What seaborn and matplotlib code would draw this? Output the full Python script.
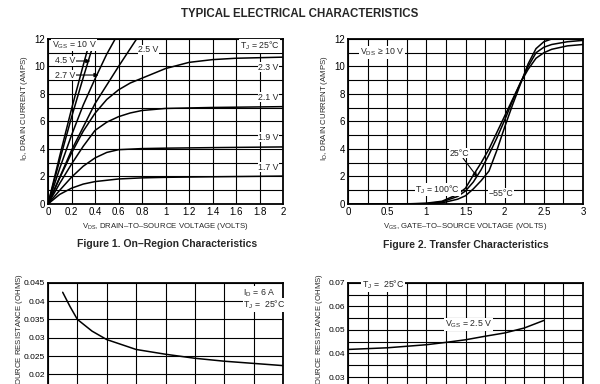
import numpy as np
import pandas as pd
import seaborn as sns
import matplotlib.pyplot as plt
from matplotlib.ticker import FixedLocator, FuncFormatter

# ---- Figure 1: on-region characteristics (ID vs VDS for each VGS) ----
vgs_names = ['10 V', '4.5 V', '2.7 V', '2.5 V', '2.3 V', '2.1 V', '1.9 V', '1.7 V']
vds_10v = [0, 0.1, 0.2, 0.3, 0.4]
id_10v = [0, 3.5, 6.9, 10.1, 13.2]
vds_45v = [0, 0.1, 0.2, 0.3, 0.45]
id_45v = [0, 3.2, 6.3, 9.2, 13.4]
vds_27v = [0, 0.1, 0.2, 0.3, 0.4, 0.5, 0.65]
id_27v = [0, 2.6, 5.0, 7.2, 9.1, 10.9, 13.2]
vds_25v = [0, 0.2, 0.4, 0.6, 0.8]
id_25v = [0, 3.9, 7.3, 10.0, 12.6]
vds_23v = [0, 0.1, 0.2, 0.3, 0.4, 0.5, 0.6, 0.7, 0.8, 1.0, 1.2, 1.4, 1.6, 2.0]
id_23v = [0, 1.9, 3.7, 5.3, 6.6, 7.6, 8.3, 8.8, 9.15, 9.85, 10.3, 10.5, 10.6, 10.68]
vds_21v = [0, 0.1, 0.2, 0.3, 0.4, 0.5, 0.6, 0.7, 0.8, 1.0, 1.4, 2.0]
id_21v = [0, 1.5, 2.9, 4.2, 5.35, 5.95, 6.35, 6.62, 6.8, 6.95, 7.02, 7.08]
vds_19v = [0, 0.1, 0.2, 0.3, 0.4, 0.5, 0.6, 0.8, 1.0, 1.4, 2.0]
id_19v = [0, 1.0, 1.95, 2.75, 3.35, 3.75, 3.95, 4.03, 4.06, 4.1, 4.15]
vds_17v = [0, 0.1, 0.2, 0.3, 0.4, 0.6, 0.8, 1.0, 1.4, 2.0]
id_17v = [0, 0.7, 1.15, 1.45, 1.63, 1.82, 1.9, 1.94, 1.98, 2.03]

# ---- Figure 2: transfer characteristics (ID vs VGS per junction temp) ----
vgs_100c = [0, 0.8, 1.0, 1.2, 1.4, 1.5, 1.6, 1.7, 1.8, 1.9, 2.0, 2.1, 2.2, 2.3, 2.4, 2.5, 2.6, 2.8, 3.0]
id_100c = [0, 0.02, 0.06, 0.2, 0.7, 1.15, 2.1, 3.0, 4.0, 5.2, 6.4, 7.6, 8.8, 9.8, 10.6, 11.0, 11.25, 11.5, 11.6]
vgs_25c = [0, 0.8, 1.0, 1.2, 1.4, 1.5, 1.6, 1.7, 1.8, 1.9, 2.0, 2.1, 2.2, 2.3, 2.4, 2.5, 2.6, 2.8, 3.0]
id_25c = [0, 0.01, 0.03, 0.15, 0.55, 0.95, 1.6, 2.5, 3.6, 4.8, 6.1, 7.5, 8.8, 10.0, 11.0, 11.4, 11.6, 11.8, 11.9]
vgs_m55c = [0, 0.8, 1.0, 1.2, 1.4, 1.5, 1.6, 1.7, 1.8, 1.9, 2.0, 2.1, 2.2, 2.3, 2.4, 2.5, 2.6, 2.8, 3.0]
id_m55c = [0, 0.0, 0.01, 0.08, 0.35, 0.6, 1.1, 1.7, 2.4, 3.9, 5.6, 7.2, 8.7, 10.2, 11.3, 11.8, 12.0, 12.2, 12.3]

# ---- Figure 3: on-resistance vs gate voltage ----
vgs_r = [2.5, 2.75, 3.0, 3.5, 4.0, 5.0, 6.0, 7.0, 8.0, 9.0, 10.0]
rds_vgs = [0.0424, 0.0385, 0.0350, 0.0318, 0.0295, 0.0268, 0.0255, 0.0244, 0.0236, 0.0230, 0.0224]

# ---- Figure 4: on-resistance vs drain current ----
id_r = [0, 2, 4, 5, 6, 7, 8, 9, 10]
rds_id = [0.0417, 0.0424, 0.0437, 0.0447, 0.0458, 0.0473, 0.0487, 0.0508, 0.0540]

# tick values (only the labels that show above the page crop for the lower panels)
fig1_xticks = [0, 0.2, 0.4, 0.6, 0.8, 1, 1.2, 1.4, 1.6, 1.8, 2]
fig2_xticks = [0, 0.5, 1, 1.5, 2, 2.5, 3]
id_ticks = [0, 2, 4, 6, 8, 10, 12]
fig3_yticks = [0.02, 0.025, 0.03, 0.035, 0.04, 0.045]
fig4_yticks = [0.03, 0.04, 0.05, 0.06, 0.07]

sns.set_theme(style='white')
plt.rcParams['font.family'] = ['Liberation Sans Narrow', 'Liberation Sans', 'DejaVu Sans']
plt.rcParams['mathtext.fontset'] = 'custom'
plt.rcParams['mathtext.rm'] = 'Liberation Sans'

fig = plt.figure(figsize=(6, 3.84), dpi=100)
ax1 = fig.add_axes([0.08, 0.46875, 0.3917, 0.4297])
ax2 = fig.add_axes([0.58, 0.46875, 0.3917, 0.4297])
ax3 = fig.add_axes([0.08, -0.166, 0.3917, 0.4297])
ax4 = fig.add_axes([0.58, -0.166, 0.3917, 0.4297])

fmt = FuncFormatter(lambda v, p: '%g' % v)
lab_fs = 5.6
note_fs = 6.3


def style_axes(ax, xlim, ylim, xmajor, ymajor, xgrid, ygrid, tick_fs=7):
    ax.set_xlim(xlim)
    ax.set_ylim(ylim)
    ax.xaxis.set_major_locator(FixedLocator(xmajor))
    ax.yaxis.set_major_locator(FixedLocator(ymajor))
    ax.xaxis.set_minor_locator(FixedLocator(xgrid))
    ax.yaxis.set_minor_locator(FixedLocator(ygrid))
    ax.xaxis.set_major_formatter(fmt)
    ax.yaxis.set_major_formatter(fmt)
    ax.grid(True, which='both', color='black', lw=0.8)
    ax.tick_params(which='both', length=0, pad=2, labelsize=tick_fs, colors='black')
    for s in ax.spines.values():
        s.set_color('black')
        s.set_linewidth(1.3)


def draw_curves(ax, xs, ys, names, xname, yname):
    frames = [pd.DataFrame({xname: x, yname: y, 'curve': n}) for x, y, n in zip(xs, ys, names)]
    df = pd.concat(frames, ignore_index=True)
    sns.lineplot(data=df, x=xname, y=yname, units='curve', estimator=None,
                 color='black', lw=1.1, sort=False, ax=ax, legend=False)


box = dict(facecolor='white', edgecolor='none', pad=0.4)
arrow = dict(arrowstyle='-|>', color='black', lw=0.8, mutation_scale=6, shrinkA=0, shrinkB=0)

# Figure 1
draw_curves(ax1,
            [vds_10v, vds_45v, vds_27v, vds_25v, vds_23v, vds_21v, vds_19v, vds_17v],
            [id_10v, id_45v, id_27v, id_25v, id_23v, id_21v, id_19v, id_17v],
            vgs_names, 'vds', 'id')
style_axes(ax1, (0, 2), (0, 12), fig1_xticks, id_ticks, fig1_xticks, np.arange(0, 13, 1))
ax1.set_xlabel(r'$\mathregular{V_{DS}}$, DRAIN–TO–SOURCE VOLTAGE (VOLTS)', fontsize=lab_fs, labelpad=3)
ax1.set_ylabel(r'$\mathregular{I_D}$, DRAIN CURRENT (AMPS)', fontsize=lab_fs)
ax1.yaxis.set_label_coords(-0.075, 0.58)
ax1.text(0.034, 11.55, r'$\mathregular{V_{GS}}$ = 10 V', fontsize=note_fs, va='center', bbox=box)
ax1.annotate('4.5 V', xy=(0.36, 10.4), xytext=(0.06, 10.4), fontsize=note_fs, va='center',
             bbox=box, arrowprops=arrow)
ax1.annotate('2.7 V', xy=(0.43, 9.38), xytext=(0.06, 9.38), fontsize=note_fs, va='center',
             bbox=box, arrowprops=arrow)
ax1.text(0.77, 11.2, '2.5 V', fontsize=note_fs, va='center', bbox=box)
ax1.text(1.63, 11.5, r'$\mathregular{T_J}$ = 25°C', fontsize=note_fs, va='center', bbox=box)
for lab, yv in zip(['2.3 V', '2.1 V', '1.9 V', '1.7 V'], [9.96, 7.78, 4.87, 2.69]):
    ax1.text(1.79, yv, lab, fontsize=note_fs, va='center', bbox=box)

# Figure 2
draw_curves(ax2, [vgs_100c, vgs_25c, vgs_m55c], [id_100c, id_25c, id_m55c],
            ['100', '25', '-55'], 'vgs', 'id')
style_axes(ax2, (0, 3), (0, 12), fig2_xticks, id_ticks, np.arange(0, 3.01, 0.25), np.arange(0, 13, 1))
ax2.set_xlabel(r'$\mathregular{V_{GS}}$, GATE–TO–SOURCE VOLTAGE (VOLTS)', fontsize=lab_fs, labelpad=3)
ax2.set_ylabel(r'$\mathregular{I_D}$, DRAIN CURRENT (AMPS)', fontsize=lab_fs)
ax2.yaxis.set_label_coords(-0.075, 0.58)
ax2.text(0.15, 11.0, r'$\mathregular{V_{DS}}$ ≥ 10 V', fontsize=note_fs, va='center', bbox=box)
ax2.annotate('25°C', xy=(1.65, 1.97), xytext=(1.42, 3.7), fontsize=note_fs, ha='center', va='center',
             bbox=box, arrowprops=arrow)
ax2.text(0.86, 1.07, r'$\mathregular{T_J}$ = 100°C', fontsize=note_fs, va='center', bbox=box)
ax2.text(1.8, 0.78, '−55°C', fontsize=note_fs, va='center', bbox=box)

# Figure 3 (lower half of the panel is below the page crop)
sns.lineplot(x=vgs_r, y=rds_vgs, color='black', lw=1.1, ax=ax3)
style_axes(ax3, (2, 10), (0, 0.045), np.arange(2, 11, 1), fig3_yticks, np.arange(2, 11, 1),
           np.arange(0, 0.0451, 0.005), tick_fs=6)
ax3.tick_params(axis='x', labelbottom=False)
ax3.set_ylabel(r'$\mathregular{R_{DS(on)}}$, DRAIN–TO–SOURCE RESISTANCE (OHMS)', fontsize=lab_fs)
ax3.yaxis.set_label_coords(-0.098, 1.06)
ax3.yaxis.label.set_horizontalalignment('right')
ax3.text(8.65, 0.0422, r'$\mathregular{I_D}$ = 6 A', fontsize=note_fs, va='center', bbox=box)
ax3.text(8.65, 0.0389, r'$\mathregular{T_J}$ =  25°C', fontsize=note_fs, va='center', bbox=box)

# Figure 4
sns.lineplot(x=id_r, y=rds_id, color='black', lw=1.1, ax=ax4)
style_axes(ax4, (0, 12), (0, 0.07), np.arange(0, 13, 2), fig4_yticks, np.arange(0, 13, 1),
           np.arange(0, 0.0701, 0.005), tick_fs=6)
ax4.tick_params(axis='x', labelbottom=False)
ax4.set_ylabel(r'$\mathregular{R_{DS(on)}}$, DRAIN–TO–SOURCE RESISTANCE (OHMS)', fontsize=lab_fs)
ax4.yaxis.set_label_coords(-0.098, 1.06)
ax4.yaxis.label.set_horizontalalignment('right')
ax4.text(0.7, 0.069, r'$\mathregular{T_J}$ =  25°C', fontsize=note_fs, va='center', bbox=box)
ax4.text(4.95, 0.0522, r'$\mathregular{V_{GS}}$ = 2.5 V', fontsize=note_fs, va='center', bbox=box)

fig.text(0.5, 0.963, 'TYPICAL ELECTRICAL CHARACTERISTICS', ha='center', va='center',
         fontsize=8.3, fontweight='bold', family='Liberation Sans')
fig.text(0.278, 0.3646, 'Figure 1. On–Region Characteristics', ha='center', va='center',
         fontsize=7.5, fontweight='bold', family='Liberation Sans')
fig.text(0.777, 0.3620, 'Figure 2. Transfer Characteristics', ha='center', va='center',
         fontsize=7.5, fontweight='bold', family='Liberation Sans')

fig.savefig('out.png', dpi=100)
